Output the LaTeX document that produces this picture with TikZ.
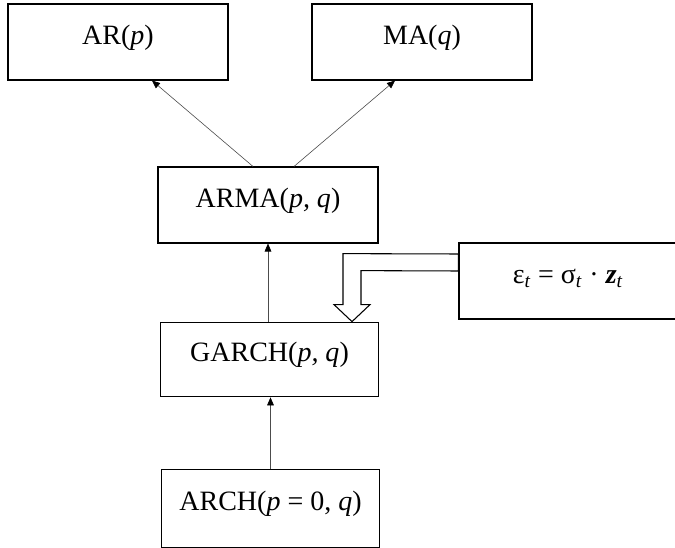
\documentclass[tikz,border=0pt]{standalone}
\usepackage{fontspec}
\setmainfont{Liberation Serif}
\usetikzlibrary{arrows.meta,calc}
\begin{document}
\begin{tikzpicture}[x=0.75pt,y=-0.75pt,
  box/.style={draw=black,line width=0.8pt,minimum width=165pt,minimum height=57pt,inner sep=0pt,
    text height=0.7em,text depth=0.35em,
    font=\fontsize{21}{25}\selectfont},
  conn/.style={draw=black!70,line width=0.45pt,-{Triangle[length=6pt,width=5pt,fill=black,color=black]}},
  hollow/.style={draw=black,line width=0.8pt,fill=white}]
\useasboundingbox (0,0) rectangle (675,548);
\node[box] (ar) at (118,42) {AR(\textit{p})};
\node[box] (ma) at (422,42) {MA(\textit{q})};
\node[box] (arma) at (268,205) {ARMA(\textit{p, q})};
\node[box,minimum width=164pt,minimum height=56pt] (garch) at (269.5,359.5) {GARCH(\textit{p, q})};
\node[box,minimum width=164pt,minimum height=58pt] (arch) at (270.5,508.5) {ARCH(\textit{p} = 0, \textit{q})};
\node[box,minimum width=163.5pt] (eps) at (568,281) {ε\textsubscript{\textit{t}} = σ\textsubscript{\textit{t}} · \textbf{\textit{z}}\textsubscript{\textit{t}}};
\draw[conn] ($(arma.north)+(-15,0)$) -- ($(ar.south)+(34,0)$);
\draw[conn] ($(arma.north)+(26,0)$) -- ($(ma.south)+(-27,0)$);
\draw[conn] (garch.north -| arma.south) -- (arma.south);
\draw[conn] (arch.north) -- (arch.north |- garch.south);
\draw[hollow] ($(eps.west)+(0,-27)$) -- ($(garch.north)+(73.5,-68)$) -- ($(garch.north)+(73.5,-17)$)
  -- ($(garch.north)+(64.5,-17)$) -- ($(garch.north)+(82.5,0)$) -- ($(garch.north)+(100.5,-17)$)
  -- ($(garch.north)+(91.5,-17)$) -- ($(garch.north)+(91.5,-51)$) -- ($(eps.west)+(0,-10)$) -- cycle;
\end{tikzpicture}
\end{document}
